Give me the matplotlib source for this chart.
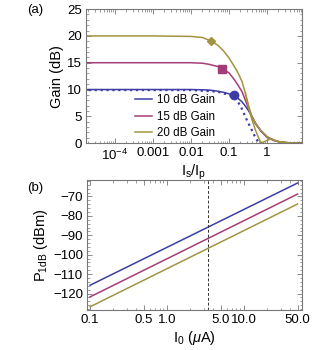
import numpy as np
from matplotlib import pyplot as plt
from matplotlib import ticker

plt.rcParams['font.family'] = ['Liberation Sans', 'DejaVu Sans']
plt.rcParams['mathtext.fontset'] = 'custom'
plt.rcParams['mathtext.rm'] = 'Liberation Sans'
plt.rcParams['mathtext.it'] = 'Liberation Sans:italic'

# colours (old Mathematica default palette)
blue = '#3D3DA6'
pink = '#A33D78'
olive = '#A39440'

# (a) gain vs Is/Ip
ratio = [1e-5, 1e-3, 0.01, 0.02, 0.03, 0.05, 0.07, 0.1, 0.13, 0.17, 0.22, 0.27,
         0.33, 0.4, 0.5, 0.7, 1.0, 1.5, 2, 3, 5, 9]
gain_10 = [10, 10, 10, 9.95, 9.9, 9.7, 9.5, 9.2, 8.9, 8.4, 7.7, 6.9,
           6.0, 5.0, 3.6, 2.2, 1.1, 0.5, 0.28, 0.11, 0.03, 0.01]
gain_15 = [15, 15, 15, 14.9, 14.7, 14.3, 13.8, 13.1, 12.1, 10.9, 9.6, 8.0,
           6.4, 5.0, 3.7, 2.3, 1.2, 0.55, 0.3, 0.12, 0.03, 0.01]
gain_20 = [20, 20, 19.9, 19.7, 19.2, 18.3, 17.3, 15.9, 14.6, 13.2, 11.5, 9.3,
           6.9, 5.0, 3.7, 2.3, 1.2, 0.55, 0.3, 0.12, 0.03, 0.01]

# dotted blue curve
ratio_dot = [1e-5, 0.01, 0.05, 0.1, 0.145, 0.2, 0.3, 0.4, 0.5, 0.62]
gain_dot = [9.9, 9.9, 9.6, 9.0, 8.4, 7.0, 4.2, 2.4, 1.0, 0.0]

# second olive curve (dips to zero then small bump)
ratio_ol2 = [0.27, 0.33, 0.4, 0.5, 0.6, 0.69, 0.8, 1.0, 1.3, 1.6, 2.0, 2.5, 3.5]
gain_ol2 = [9.3, 6.6, 4.4, 2.4, 1.0, 0.05, 0.2, 0.5, 0.8, 0.55, 0.3, 0.15, 0.05]

# 1 dB compression points
comp_x = [0.136, 0.067, 0.034]
comp_y = [8.9, 13.8, 19.0]

# (b) P1dB vs I0
i0 = [0.1, 50]
p_10 = [-115.7, -63.1]
p_15 = [-121.7, -68.8]
p_20 = [-126.8, -73.9]
i0_mark = 3.45

fig = plt.figure(figsize=(3.3, 3.5), dpi=100)
ax1 = fig.add_axes([0.261, 0.591, 0.654, 0.383])
ax2 = fig.add_axes([0.264, 0.114, 0.651, 0.372])

for ax in (ax1, ax2):
    for s in ax.spines.values():
        s.set_color('#777777')
        s.set_linewidth(0.8)
    ax.tick_params(which='both', direction='in', top=True, right=True,
                   color='#777777', labelsize=9.5, pad=3)
    ax.tick_params(which='major', length=3.5, width=0.6)
    ax.tick_params(which='minor', length=1.8, width=0.5)

# top panel
ax1.plot(ratio_dot, gain_dot, ':', color=blue, lw=1.6)
ax1.plot(ratio, gain_10, color=blue, lw=1.1, label='10 dB Gain')
ax1.plot(ratio, gain_15, color=pink, lw=1.1, label='15 dB Gain')
ax1.plot(ratio, gain_20, color=olive, lw=1.1, label='20 dB Gain')
ax1.plot(ratio_ol2, gain_ol2, color=olive, lw=1.1)
ax1.plot(comp_x[0], comp_y[0], 'o', color=blue, ms=6)
ax1.plot(comp_x[1], comp_y[1], 's', color=pink, ms=5.5)
ax1.plot(comp_x[2], comp_y[2], 'D', color=olive, ms=4.5)
ax1.set_xscale('log')
ax1.set_xlim(10**-4.76, 10**0.92)
ax1.set_ylim(0, 25)
ax1.xaxis.set_major_locator(ticker.FixedLocator([1e-4, 1e-3, 1e-2, 1e-1, 1]))
ax1.xaxis.set_major_formatter(ticker.FixedFormatter(['$10^{-4}$', '0.001', '0.01', '0.1', '1']))
ax1.xaxis.set_minor_locator(ticker.LogLocator(subs=np.arange(2, 10), numticks=20))
ax1.xaxis.set_minor_formatter(ticker.NullFormatter())
ax1.yaxis.set_major_locator(ticker.MultipleLocator(5))
ax1.yaxis.set_minor_locator(ticker.MultipleLocator(1))
ax1.set_ylabel('Gain (dB)', fontsize=10.5, labelpad=2)
ax1.set_xlabel('I$_\\mathregular{s}$/I$_\\mathregular{p}$', fontsize=10.5, labelpad=0)
ax1.legend(loc='lower left', bbox_to_anchor=(0.177, -0.05), frameon=False,
           fontsize=8.3, handlelength=1.5, handletextpad=0.4, labelspacing=0.4)

# bottom panel
ax2.plot(i0, p_10, color=blue, lw=1.1)
ax2.plot(i0, p_15, color=pink, lw=1.1)
ax2.plot(i0, p_20, color=olive, lw=1.1)
ax2.axvline(i0_mark, color='#333333', ls='--', lw=0.7, dashes=(3, 2))
ax2.set_xscale('log')
ax2.set_xlim(0.0915, 57)
ax2.set_ylim(-128.5, -61.5)
ax2.xaxis.set_major_locator(ticker.FixedLocator([0.1, 0.5, 1, 5, 10, 50]))
ax2.xaxis.set_major_formatter(ticker.FixedFormatter(['0.1', '0.5', '1.0', '5.0', '10.0', '50.0']))
ax2.xaxis.set_minor_locator(ticker.LogLocator(subs=np.arange(2, 10), numticks=20))
ax2.xaxis.set_minor_formatter(ticker.NullFormatter())
ax2.yaxis.set_major_locator(ticker.MultipleLocator(10))
ax2.yaxis.set_minor_locator(ticker.MultipleLocator(2))
ax2.set_ylabel('P$_\\mathregular{1dB}$ (dBm)', fontsize=10.5, labelpad=2)
ax2.set_xlabel('I$_\\mathregular{0}$ ($\\mu$A)', fontsize=10.5, labelpad=2)

fig.text(0.082, 0.962, '(a)', fontsize=9.5)
fig.text(0.082, 0.455, '(b)', fontsize=9.5)

fig.savefig('out.png', dpi=100)
